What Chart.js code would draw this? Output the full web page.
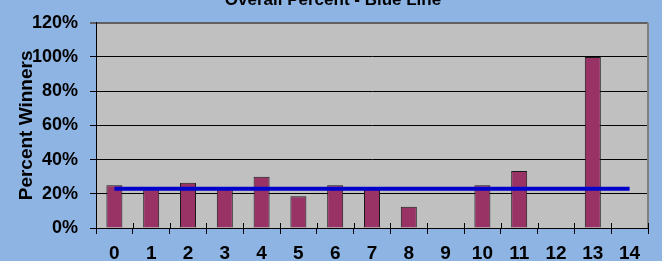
<!DOCTYPE html>
<html>
<head>
<meta charset="utf-8">
<title>Overall Percent - Blue Line</title>
<script src="https://cdn.jsdelivr.net/npm/chart.js@4.4.1/dist/chart.umd.min.js"></script>
<style>
  html, body { margin:0; padding:0; background:#8EB4E3; }
  #wrap { width:662px; height:261px; }
</style>
</head>
<body>
<div id="wrap"><canvas id="chart" width="662" height="261"></canvas></div>
<script>
var labels   = ['0','1','2','3','4','5','6','7','8','9','10','11','12','13','14'];
var winners  = [0.25, 0.225, 0.265, 0.24, 0.30, 0.185, 0.25, 0.24, 0.125, 0, 0.25, 0.333, 0, 1.00, 0];
var overall  = [0.23, 0.23, 0.23, 0.23, 0.23, 0.23, 0.23, 0.23, 0.23, 0.23, 0.23, 0.23, 0.23, 0.23, 0.23];
var yTicks   = [0, 0.2, 0.4, 0.6, 0.8, 1.0, 1.2];
var titleTxt = 'Overall Percent - Blue Line';
var yTitle   = 'Percent Winners';

(function(){
  var FONT = "'Liberation Sans', Arial, sans-serif";

  function pct(v){ return Math.round(v*100) + '%'; }

  // gray plot area, its border, the cross ticks on the x axis and the title
  var frame = {
    id:'frame',
    beforeDraw: function(c){
      var a = c.chartArea, ctx = c.ctx;
      ctx.save();
      ctx.fillStyle = '#C0C0C0';
      ctx.fillRect(a.left, a.top, a.right-a.left, a.bottom-a.top);
      ctx.restore();
    },
    afterDatasetsDraw: function(c){
      var a = c.chartArea, ctx = c.ctx, x = c.scales.x;
      ctx.save();
      ctx.strokeStyle = '#808080';
      ctx.lineWidth = 2;
      ctx.beginPath();
      ctx.moveTo(a.right, a.top); ctx.lineTo(a.right, a.bottom);
      ctx.stroke();
      ctx.strokeStyle = '#000';
      ctx.lineWidth = 1;
      ctx.beginPath();
      for (var i=0;i<=labels.length;i++){
        var px = Math.round(x.getPixelForValue(i-0.5)) + 0.5;
        ctx.moveTo(px, a.bottom-5); ctx.lineTo(px, a.bottom);
      }
      ctx.stroke();
      ctx.restore();
    },
    afterDraw: function(c){
      var ctx = c.ctx;
      ctx.save();
      ctx.fillStyle = '#000';
      ctx.font = 'bold 17px ' + FONT;
      ctx.textAlign = 'center';
      ctx.textBaseline = 'alphabetic';
      ctx.fillText(titleTxt, 333, 5);
      ctx.restore();
    }
  };

  new Chart(document.getElementById('chart'), {
    data:{
      labels: labels,
      datasets:[
        { type:'line', label:'Overall', data: overall, order:0,
          borderColor:'#0000CC', borderWidth:4, pointRadius:0, fill:false, tension:0 },
        { type:'bar', label:'Winners', data: winners, order:1,
          backgroundColor:'#993366', borderColor:'#1a1a1a', borderWidth:1,
          barPercentage:0.435, categoryPercentage:1 }
      ]
    },
    options:{
      responsive:false, animation:false, devicePixelRatio:1,
      layout:{ padding:{ top:16, right:14, bottom:0, left:0 } },
      plugins:{ legend:{display:false}, tooltip:{enabled:false}, title:{display:false} },
      scales:{
        x:{
          offset:true,
          grid:{ offset:true, drawOnChartArea:false, drawTicks:true, tickLength:6, color:'#000' },
          border:{ color:'#000', width:1 },
          ticks:{ color:'#000', padding:8, maxRotation:0, autoSkip:false,
                  font:{ family:FONT, size:19, weight:'bold' } },
          afterFit: function(s){ s.height = 33; }
        },
        y:{
          min:0, max:1.2,
          afterBuildTicks: function(s){ s.ticks = yTicks.map(function(v){ return {value:v}; }); },
          grid:{ color: function(ctx){ return ctx.tick && ctx.tick.value >= 1.2 ? '#606060' : '#000'; },
                 lineWidth: function(ctx){ return ctx.tick && ctx.tick.value >= 1.2 ? 2 : 1; },
                 tickLength:6 },
          border:{ color:'#000', width:1 },
          ticks:{ color:'#000', padding:12, callback: function(v){ return pct(v); },
                  font:{ family:FONT, size:18, weight:'bold' } },
          title:{ display:true, text:yTitle, color:'#000', padding:{top:17, bottom:0},
                  font:{ family:FONT, size:19, weight:'bold', lineHeight:1 } },
          afterFit: function(s){ s.width = 96; }
        }
      }
    },
    plugins:[frame]
  });
})();
</script>
</body>
</html>
